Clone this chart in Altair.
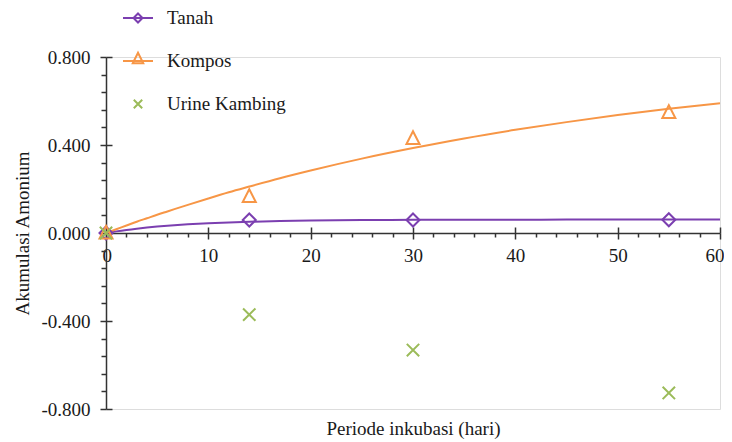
import altair as alt
import pandas as pd

# ---------------- data ----------------
series_names = ["Tanah", "Kompos", "Urine Kambing"]
series_colors = ["#7B3FB0", "#F79646", "#9BBB59"]

obs_days = [0, 14, 30, 55]
tanah_obs = [0.0, 0.059, 0.059, 0.060]
kompos_obs = [0.0, 0.166, 0.430, 0.548]
urine_obs = [0.0, -0.371, -0.532, -0.727]

curve_days = [0, 1, 2, 3, 4, 5, 6, 8, 10, 12, 14, 17, 20, 25, 30, 35, 40, 45, 50, 55, 60]
tanah_curve = [0.0, 0.0074, 0.0140, 0.0197, 0.0247, 0.0292, 0.0330, 0.0394, 0.0444,
               0.0482, 0.0511, 0.0543, 0.0565, 0.0586, 0.0598, 0.0604, 0.0607, 0.0608,
               0.0609, 0.0610, 0.0610]
kompos_curve = [0.0, 0.017, 0.034, 0.051, 0.067, 0.083, 0.098, 0.128, 0.157, 0.185,
                0.211, 0.249, 0.284, 0.338, 0.386, 0.430, 0.469, 0.504, 0.536, 0.565, 0.590]

x_major_ticks = [0, 10, 20, 30, 40, 50, 60]
x_minor_ticks = [2, 4, 6, 8, 12, 14, 16, 18, 22, 24, 26, 28, 32, 34, 36, 38,
                 42, 44, 46, 48, 52, 54, 56, 58]
y_major_ticks = [-0.8, -0.4, 0.0, 0.4, 0.8]
y_minor_ticks = [-0.72, -0.64, -0.56, -0.48, -0.32, -0.24, -0.16, -0.08,
                 0.08, 0.16, 0.24, 0.32, 0.48, 0.56, 0.64, 0.72]

x_title = "Periode inkubasi (hari)"
y_title = "Akumulasi Amonium"

# ---------------- tables ----------------
points = pd.DataFrame({
    "series": ["Tanah"] * 4 + ["Kompos"] * 4 + ["Urine Kambing"] * 4,
    "x": obs_days * 3,
    "y": tanah_obs + kompos_obs + urine_obs,
})
curves = pd.DataFrame({
    "series": ["Tanah"] * len(curve_days) + ["Kompos"] * len(curve_days),
    "x": curve_days + curve_days,
    "y": tanah_curve + kompos_curve,
})

# ---------------- style ----------------
W, H = 614, 352
FONT = "Liberation Serif"
FS = 19
AX = "#333333"
TXT = "#1a1a1a"

marker_paths = [
    "M0,-1L1,0L0,1L-1,0Z",
    "M0,-1.1L1,0.85L-1,0.85Z",
    "M-0.95,-0.95L0.95,0.95M-0.95,0.95L0.95,-0.95",
]
legend_paths = [
    "M-1,0L1,0M0,-0.3L0.3,0L0,0.3L-0.3,0Z",
    "M-1,0L1,0M0,-0.55L0.35,0.15L-0.35,0.15Z",
    "M-0.28,-0.28L0.28,0.28M-0.28,0.28L0.28,-0.28",
]

xs = alt.Scale(domain=[0, 60], nice=False, zero=False)
ys = alt.Scale(domain=[-0.8, 0.8], nice=False, zero=False)
cs = alt.Scale(domain=series_names, range=series_colors)

common = dict(grid=False, domainColor=AX, tickColor=AX, domainWidth=1.5, tickWidth=1.5,
              labelFont=FONT, labelFontSize=FS, labelColor=TXT,
              titleFont=FONT, titleFontSize=FS, titleColor=TXT, titleFontWeight="normal")

x_main_axis = alt.Axis(orient="bottom", offset=-H / 2, values=x_major_ticks, tickSize=6,
                       labelPadding=7, format="d", title=None, labelFlush=True,
                       labelFlushOffset=4, **common)
x_minor_axis = alt.Axis(orient="bottom", offset=-H / 2, values=x_minor_ticks, tickSize=4,
                        labels=False, domain=False, title=None, **common)
x_top_axis = alt.Axis(orient="top", offset=-H / 2, values=x_major_ticks, tickSize=6,
                      labels=False, domain=False, title=None, **common)
x_title_axis = alt.Axis(orient="bottom", labels=False, ticks=False, domain=False,
                        title=x_title, titleY=19, titleBaseline="middle", **common)

y_main_axis = alt.Axis(orient="left", values=y_major_ticks, tickSize=6, labelPadding=10,
                       labelFlush=False,
                       labelExpr="datum.value < 0 ? '-' + format(-datum.value, '.3f') : format(datum.value, '.3f')",
                       title=y_title, titleX=-84, titleY=H / 2, titleBaseline="middle",
                       titleAngle=-90, **common)
y_minor_axis = alt.Axis(orient="left", values=y_minor_ticks, tickSize=5, labels=False,
                        domain=False, title=None, **common)
y_inner_axis = alt.Axis(orient="left", offset=-6, values=y_major_ticks, tickSize=6,
                        labels=False, domain=False, title=None, **common)

lines = alt.Chart(curves).mark_line(strokeWidth=2, interpolate="monotone").encode(
    x=alt.X("x:Q", scale=xs, axis=x_main_axis),
    y=alt.Y("y:Q", scale=ys, axis=y_main_axis),
    color=alt.Color("series:N", scale=cs, legend=None),
    detail="series:N",
)

marks = alt.Chart(points).mark_point(filled=False, strokeWidth=2, size=170, opacity=1).encode(
    x=alt.X("x:Q", scale=xs, axis=x_minor_axis),
    y=alt.Y("y:Q", scale=ys, axis=y_minor_axis),
    color=alt.Color("series:N", scale=cs, legend=None),
    shape=alt.Shape("series:N", scale=alt.Scale(domain=series_names, range=marker_paths), legend=None),
)

legend_props = dict(title=None, orient="none", legendX=16, legendY=-55, padding=0,
                    symbolSize=900, symbolStrokeWidth=2, symbolOpacity=1,
                    labelFont=FONT, labelFontSize=FS, labelColor=TXT,
                    labelOffset=13, rowPadding=17)

legend_layer = alt.Chart(points).mark_point(filled=False, strokeWidth=2, opacity=0).encode(
    x=alt.X("x:Q", scale=xs, axis=x_top_axis),
    y=alt.Y("y:Q", scale=ys, axis=y_inner_axis),
    color=alt.Color("series:N", scale=cs, legend=alt.Legend(**legend_props)),
    shape=alt.Shape("series:N", scale=alt.Scale(domain=series_names, range=legend_paths),
                    legend=alt.Legend(**legend_props)),
)

title_layer = alt.Chart(points).mark_point(opacity=0).encode(
    x=alt.X("x:Q", scale=xs, axis=x_title_axis),
    y=alt.Y("y:Q", scale=ys, axis=None),
)

chart = alt.layer(lines, marks, legend_layer, title_layer).resolve_scale(
    color="independent", shape="independent"
).resolve_axis(x="independent", y="independent").properties(
    width=W, height=H,
    autosize=alt.AutoSizeParams(type="none"),
    padding={"left": 98, "top": 49, "right": 4, "bottom": 33},
).configure_view(stroke=None).configure(font=FONT)

chart.save("out.html", embed_options={"renderer": "svg", "actions": False})
